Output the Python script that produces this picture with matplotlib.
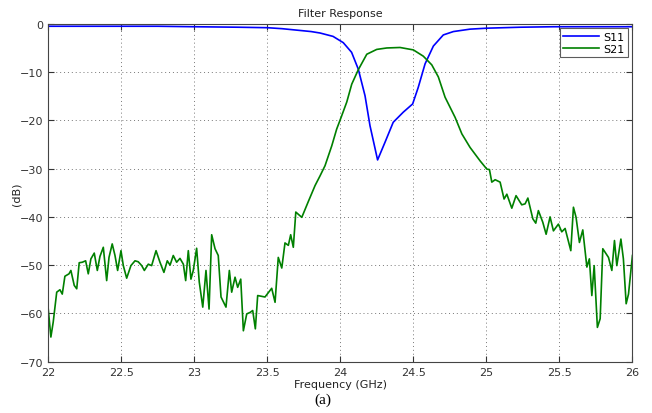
import numpy as np
import matplotlib
matplotlib.use("Agg")
import matplotlib.pyplot as plt

# S21 transmission (GHz, dB)
f21 = [22.000, 22.018, 22.034, 22.058, 22.080, 22.096, 22.114, 22.142, 22.155, 22.178,
       22.195, 22.212, 22.233, 22.256, 22.274, 22.292, 22.315, 22.336, 22.354, 22.377,
       22.400, 22.416, 22.438, 22.457, 22.475, 22.498, 22.514, 22.537, 22.566, 22.594,
       22.616, 22.640, 22.658, 22.685, 22.708, 22.738, 22.765, 22.792, 22.815, 22.834,
       22.856, 22.879, 22.902, 22.925, 22.941, 22.959, 22.977, 22.993, 23.016, 23.034,
       23.058, 23.080, 23.101, 23.119, 23.142, 23.164, 23.183, 23.217, 23.240, 23.256,
       23.279, 23.297, 23.318, 23.336, 23.359, 23.382, 23.400, 23.418, 23.434, 23.484,
       23.530, 23.553, 23.575, 23.599, 23.621, 23.644, 23.660, 23.678, 23.695, 23.736,
       23.781, 23.827, 23.861, 23.895, 23.941, 23.975, 24.005, 24.044, 24.078, 24.123,
       24.181, 24.249, 24.318, 24.409, 24.500, 24.568, 24.626, 24.671, 24.717, 24.786,
       24.832, 24.888, 24.957, 25.003, 25.021, 25.037, 25.060, 25.094, 25.121, 25.140,
       25.174, 25.203, 25.242, 25.265, 25.284, 25.318, 25.338, 25.356, 25.386, 25.409,
       25.436, 25.459, 25.493, 25.516, 25.539, 25.578, 25.596, 25.614, 25.637, 25.660,
       25.688, 25.705, 25.722, 25.738, 25.760, 25.779, 25.797, 25.836, 25.859, 25.877,
       25.893, 25.921, 25.938, 25.957, 25.973, 26.000]
s21 = [-59.1, -64.9, -61.8, -55.6, -55.1, -56.0, -52.3, -51.8, -51.1, -54.2,
       -54.9, -49.5, -49.4, -49.1, -51.8, -48.7, -47.5, -51.1, -48.2, -46.3,
       -53.2, -48.4, -45.6, -48.0, -51.1, -47.0, -50.1, -52.7, -50.1, -49.1,
       -49.3, -50.1, -51.1, -49.8, -50.1, -47.0, -49.4, -51.5, -49.1, -50.0,
       -48.0, -49.4, -48.6, -49.8, -53.2, -47.0, -52.9, -51.1, -46.5, -53.5,
       -58.7, -51.1, -59.1, -43.7, -46.6, -48.0, -56.6, -58.7, -51.1, -55.6,
       -52.5, -54.6, -52.9, -63.6, -60.1, -59.8, -59.4, -63.2, -56.3, -56.6,
       -54.8, -57.7, -48.4, -50.6, -45.4, -45.9, -43.7, -46.3, -39.0, -40.1,
       -36.8, -33.5, -31.5, -29.4, -25.3, -21.8, -19.4, -16.2, -12.5, -9.5,
       -6.3, -5.3, -5.0, -4.9, -5.4, -6.7, -8.5, -11.0, -15.2, -19.4,
       -22.8, -25.6, -28.4, -30.1, -30.2, -32.8, -32.3, -32.8, -36.3, -35.3,
       -38.2, -35.6, -37.5, -37.3, -36.1, -40.4, -41.3, -38.7, -41.1, -43.6,
       -40.0, -42.9, -41.5, -43.1, -42.4, -47.0, -38.0, -40.1, -45.3, -42.7,
       -50.4, -48.7, -56.3, -50.1, -62.9, -61.1, -46.6, -48.4, -51.1, -44.9,
       -50.1, -44.6, -48.7, -58.0, -56.0, -48.0]

# S11 reflection
f11 = [22.0, 22.25, 22.5, 22.75, 23.0, 23.3, 23.5, 23.6, 23.7, 23.8, 23.861, 23.95,
       24.02, 24.077, 24.123, 24.169, 24.203, 24.255, 24.305, 24.362, 24.431, 24.495,
       24.533, 24.580, 24.637, 24.705, 24.774, 24.888, 25.003, 25.231, 25.459, 25.688, 26.0]
s11 = [-0.5, -0.5, -0.5, -0.5, -0.6, -0.7, -0.8, -1.0, -1.3, -1.6, -1.9, -2.6,
       -3.9, -5.9, -9.4, -14.9, -21.1, -28.2, -24.6, -20.4, -18.3, -16.6,
       -13.2, -8.3, -4.6, -2.3, -1.6, -1.1, -0.9, -0.7, -0.6, -0.6, -0.6]

plt.rcParams['font.family'] = ['DejaVu Sans']
plt.rcParams['font.size'] = 8

fig = plt.figure(figsize=(6.52, 4.14), dpi=100)
ax = fig.add_axes([0.074, 0.124, 0.896, 0.816])

ax.plot(f11, s11, color='#0000ff', lw=1.2, label='S11')
ax.plot(f21, s21, color='#008000', lw=1.2, label='S21')

ax.set_xlim(22, 26)
ax.set_ylim(-70, 0)
ax.set_xticks(np.arange(22, 26.01, 0.5))
ax.set_xticklabels(['22', '22.5', '23', '23.5', '24', '24.5', '25', '25.5', '26'])
ax.set_yticks(np.arange(-70, 1, 10))
ax.grid(True, color='#777777', linestyle=(0, (1, 3)), linewidth=0.7)
ax.tick_params(direction='in', top=True, right=True, length=4, colors='#333333',
               labelcolor='#333333', labelsize=8)
for sp in ax.spines.values():
    sp.set_color('#444444')

ax.set_title('Filter Response', fontsize=8, color='#222222', pad=6)
ax.set_xlabel('Frequency (GHz)', fontsize=8, color='#222222', labelpad=2)
ax.set_ylabel('(dB)', fontsize=8, color='#222222', labelpad=-1)

leg = ax.legend(loc='upper right', fontsize=8, frameon=True, fancybox=False,
                borderaxespad=0.4, handlelength=3.2, labelspacing=0.2,
                borderpad=0.3, handletextpad=0.4)
leg.get_frame().set_edgecolor('#333333')
leg.get_frame().set_linewidth(0.8)

fig.text(0.495, 0.018, '(a)', fontsize=11, family='Liberation Serif',
         ha='center', va='bottom')

fig.savefig('out.png', dpi=100)
